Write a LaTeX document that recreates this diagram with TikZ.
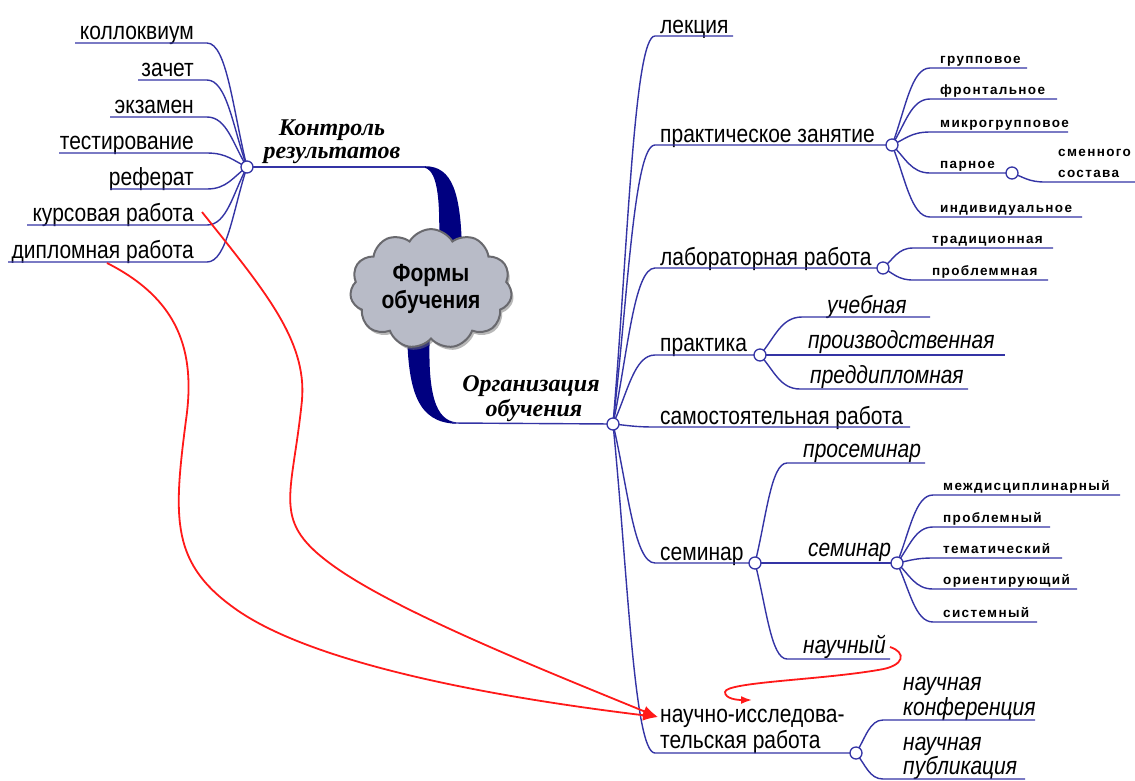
\documentclass[tikz,border=0pt]{standalone}
\usepackage{graphicx}
\usepackage{fontspec}
\setmainfont{Liberation Sans}
\newfontfamily\smf[LetterSpace=10]{Liberation Sans}
\newfontfamily\hdf{Liberation Serif}
\usetikzlibrary{shapes.symbols,shadows,arrows.meta,calc}
\definecolor{lnb}{RGB}{52,52,165}
\definecolor{nav}{RGB}{0,0,128}
\definecolor{cfill}{RGB}{184,187,199}
\definecolor{cdraw}{RGB}{105,105,110}
\definecolor{rd}{RGB}{255,25,25}
\newcommand\tall[1]{\scalebox{1}[1.18]{#1}}
\tikzset{
 br/.style={draw=lnb, line width=1.4pt},
 hubc/.style={circle, draw=lnb, fill=white, line width=1.3pt, inner sep=0pt, minimum size=12pt},
 ml/.style={anchor=base west, inner sep=0pt, font=\fontsize{21}{25}\selectfont},
 mr/.style={anchor=base east, inner sep=0pt, font=\fontsize{21}{25}\selectfont},
 il/.style={anchor=base west, inner sep=0pt, font=\fontsize{21}{25}\selectfont\itshape},
 sl/.style={anchor=base west, inner sep=0pt, font=\fontsize{13.5}{16}\smf\bfseries},
 hd/.style={anchor=base, inner sep=0pt, font=\fontsize{24}{28}\hdf\bfseries\itshape},
 redc/.style={draw=rd, line width=1.8pt, -{Latex[length=15pt,width=11pt]}},
 reds/.style={draw=rd, line width=1.8pt, -{Latex[length=11pt,width=8pt]}},
 cloudst/.style={cloud, cloud puffs=11, cloud puff arc=120, aspect=1.5, draw=cdraw, fill=cfill,
   line width=2pt, minimum width=162pt, minimum height=108pt, align=center,
   drop shadow={shadow xshift=2pt, shadow yshift=-3pt, fill=black!55},
   font=\fontsize{21}{27}\selectfont\bfseries},
}
\newcommand\brc[3]{\draw[br] let \p1=(#1),\p2=(#2) in (\p1) .. controls ({\x1+0.35*(\x2-\x1)},{\y1+0.45*(\y2-\y1)}) and ({\x1+0.5*(\x2-\x1)},{\y2}) .. (\p2) -- (#3);}
\begin{document}
\begin{tikzpicture}[x=1pt,y=-1pt]
\fill[white] (0,0) rectangle (1135,780);
\useasboundingbox (0,0) rectangle (1135,780);
% hubs
\coordinate (L) at (247,167);
\coordinate (R) at (613,424);
\coordinate (P) at (892,145);
\coordinate (PA) at (1012,173);
\coordinate (LB) at (883,268);
\coordinate (PR) at (760,355);
\coordinate (S) at (755,563);
\coordinate (S2) at (897,563);
\coordinate (N) at (856,753);
% thick branches to cloud
\coordinate (tu) at (425,167);
\coordinate (tl) at (452,423);
\fill[nav] (425,166.2) .. controls (452,166.2) and (461,192) .. (462,252) -- (439,252) .. controls (440,205) and (439,172) .. (425,167.8) -- cycle;
\fill[nav] (407,330) .. controls (408,392) and (418,422.5) .. (456,423.7) -- (456,422.3) .. controls (436,420) and (427,395) .. (430,330) -- cycle;
\draw[br] (L) -- (tu);
\draw[br] (tl) -- (R);
\node[cloudst] (cl) at (431,289) {\tall{Формы}\\\tall{обучения}};
\node[hd] (k1) at (332,135) {Контроль};
\node[hd] (k2) at (332,158) {результатов};
\node[hd] (o1) at (531,391) {Организация};
\node[hd] (o2) at (534,416) {обучения};
% left items
\foreach \nm/\yy/\xs/\tx in {kol/43/75/коллоквиум, zach/80/138/зачет, ekz/117/110/экзамен, test/153/59/тестирование, ref/189/110/реферат, kurs/225/27/курсовая работа, dipl/262/8/дипломная работа}{
  \coordinate (\nm S) at (\xs,\yy);
  \coordinate (\nm E) at (207,\yy);
  \node[mr] (\nm) at (194,{\yy-4}) {\tall{\tx}};
  \brc{L}{\nm E}{\nm S}
}
% right main items
\foreach \nm/\yy/\xe/\tx in {lek/36/733/лекция, sam/427/910/самостоятельная работа}{
  \coordinate (\nm S) at (655,\yy);
  \coordinate (\nm E) at (\xe,\yy);
  \node[ml] (\nm) at (660,{\yy-3}) {\tall{\tx}};
  \brc{R}{\nm S}{\nm E}
}
\coordinate (przS) at (655,145); \node[ml] (prz) at (660,142) {\tall{практическое занятие}}; \brc{R}{przS}{P}
\coordinate (labS) at (655,268); \node[ml] (lab) at (660,265) {\tall{лабораторная работа}}; \brc{R}{labS}{LB}
\coordinate (prkS) at (655,355); \node[ml] (prk) at (660,351) {\tall{практика}}; \brc{R}{prkS}{PR}
\coordinate (semS) at (655,563); \node[ml] (sem) at (660,560) {\tall{семинар}}; \brc{R}{semS}{S}
\coordinate (nirS) at (655,753);
\node[ml] (nir1) at (660,722) {\tall{научно-исследова-}};
\node[ml] (nir2) at (660,748) {\tall{тельская работа}};
\brc{R}{nirS}{N}
% practical lesson subitems
\foreach \nm/\yy/\xe/\tx in {grp/68/1027/групповое, fr/99/1057/фронтальное, mgr/132/1068/микрогрупповое, ind/217/1082/индивидуальное}{
  \coordinate (\nm S) at (930,\yy);
  \coordinate (\nm E) at (\xe,\yy);
  \node[sl] (\nm) at (940,{\yy-5}) {\tx};
  \brc{P}{\nm S}{\nm E}
}
\coordinate (parS) at (930,173); \node[sl] (par) at (940,168) {парное}; \brc{P}{parS}{PA}
\coordinate (smS) at (1045,182); \coordinate (smE) at (1140,182);
\node[sl] (sm1) at (1058,156) {сменного};
\node[sl] (sm2) at (1058,177) {состава};
\brc{PA}{smS}{smE}
% lab subitems
\coordinate (tradS) at (913,248); \coordinate (tradE) at (1053,248);
\node[sl] (trad) at (932,243) {традиционная}; \brc{LB}{tradS}{tradE}
\coordinate (pblS) at (913,280); \coordinate (pblE) at (1048,280);
\node[sl] (pbl) at (932,275) {проблеммная}; \brc{LB}{pblS}{pblE}
% practice subitems
\coordinate (uchS) at (802,317); \coordinate (uchE) at (930,317);
\node[il] (uch) at (827,313) {\tall{учебная}}; \brc{PR}{uchS}{uchE}
\coordinate (proS) at (785,355); \coordinate (proE) at (1005,355);
\node[il] (pro) at (808,348) {\tall{производственная}}; \brc{PR}{proS}{proE}
\coordinate (preS) at (800,389); \coordinate (preE) at (968,389);
\node[il] (pre) at (810,383) {\tall{преддипломная}}; \brc{PR}{preS}{preE}
% seminar subitems
\coordinate (psS) at (787,463); \coordinate (psE) at (925,463);
\node[il] (ps) at (803,457) {\tall{просеминар}}; \brc{S}{psS}{psE}
\node[il] (sem2) at (808,556) {\tall{семинар}}; \draw[br] (S) -- (S2);
\coordinate (nauS) at (787,659); \coordinate (nauE) at (890,659);
\node[il] (nau) at (803,653) {\tall{научный}}; \brc{S}{nauS}{nauE}
\foreach \nm/\yy/\xe/\tx in {mez/495/1120/междисциплинарный, prb/527/1050/проблемный, tem/558/1062/тематический, ori/589/1077/ориентирующий, sys/622/1037/системный}{
  \coordinate (\nm S) at (933,\yy);
  \coordinate (\nm E) at (\xe,\yy);
  \node[sl] (\nm) at (943,{\yy-5}) {\tx};
  \brc{S2}{\nm S}{\nm E}
}
% research subitems
\coordinate (konS) at (883,720); \coordinate (konE) at (1035,720);
\node[il] (kon1) at (903,690) {\tall{научная}};
\node[il] (kon2) at (903,715) {\tall{конференция}};
\brc{N}{konS}{konE}
\coordinate (pubS) at (883,779); \coordinate (pubE) at (1025,779);
\node[il] (pub1) at (903,750) {\tall{научная}};
\node[il] (pub2) at (903,774) {\tall{публикация}};
\brc{N}{pubS}{pubE}
% hub circles
\foreach \h in {L,R,P,PA,LB,PR,S,S2,N}{\node[hubc] at (\h) {};}
% red links
\coordinate (dipA) at (107,263);
\coordinate (kursA) at (202,212);
\coordinate (nirT) at (658,717);
\coordinate (nauchA) at (890,647);
\coordinate (nirB) at (752,700);
\draw[redc] (dipA) .. controls (178,299) and (196,350) .. (186,420) .. controls (173,520) and (171,564) .. (237,610) .. controls (319,667) and (509,699) .. (nirT);
\draw[redc] (kursA) .. controls (264,290) and (307,340) .. (302,400) .. controls (292,500) and (270,521) .. (335,567) .. controls (400,613) and (546,671) .. (nirT);
\draw[reds] (nauchA) .. controls (906,652) and (906,666) .. (878,670) .. controls (820,680) and (726,682) .. (725,692) .. controls (725,699) and (738,700) .. (nirB);
\end{tikzpicture}
\end{document}
